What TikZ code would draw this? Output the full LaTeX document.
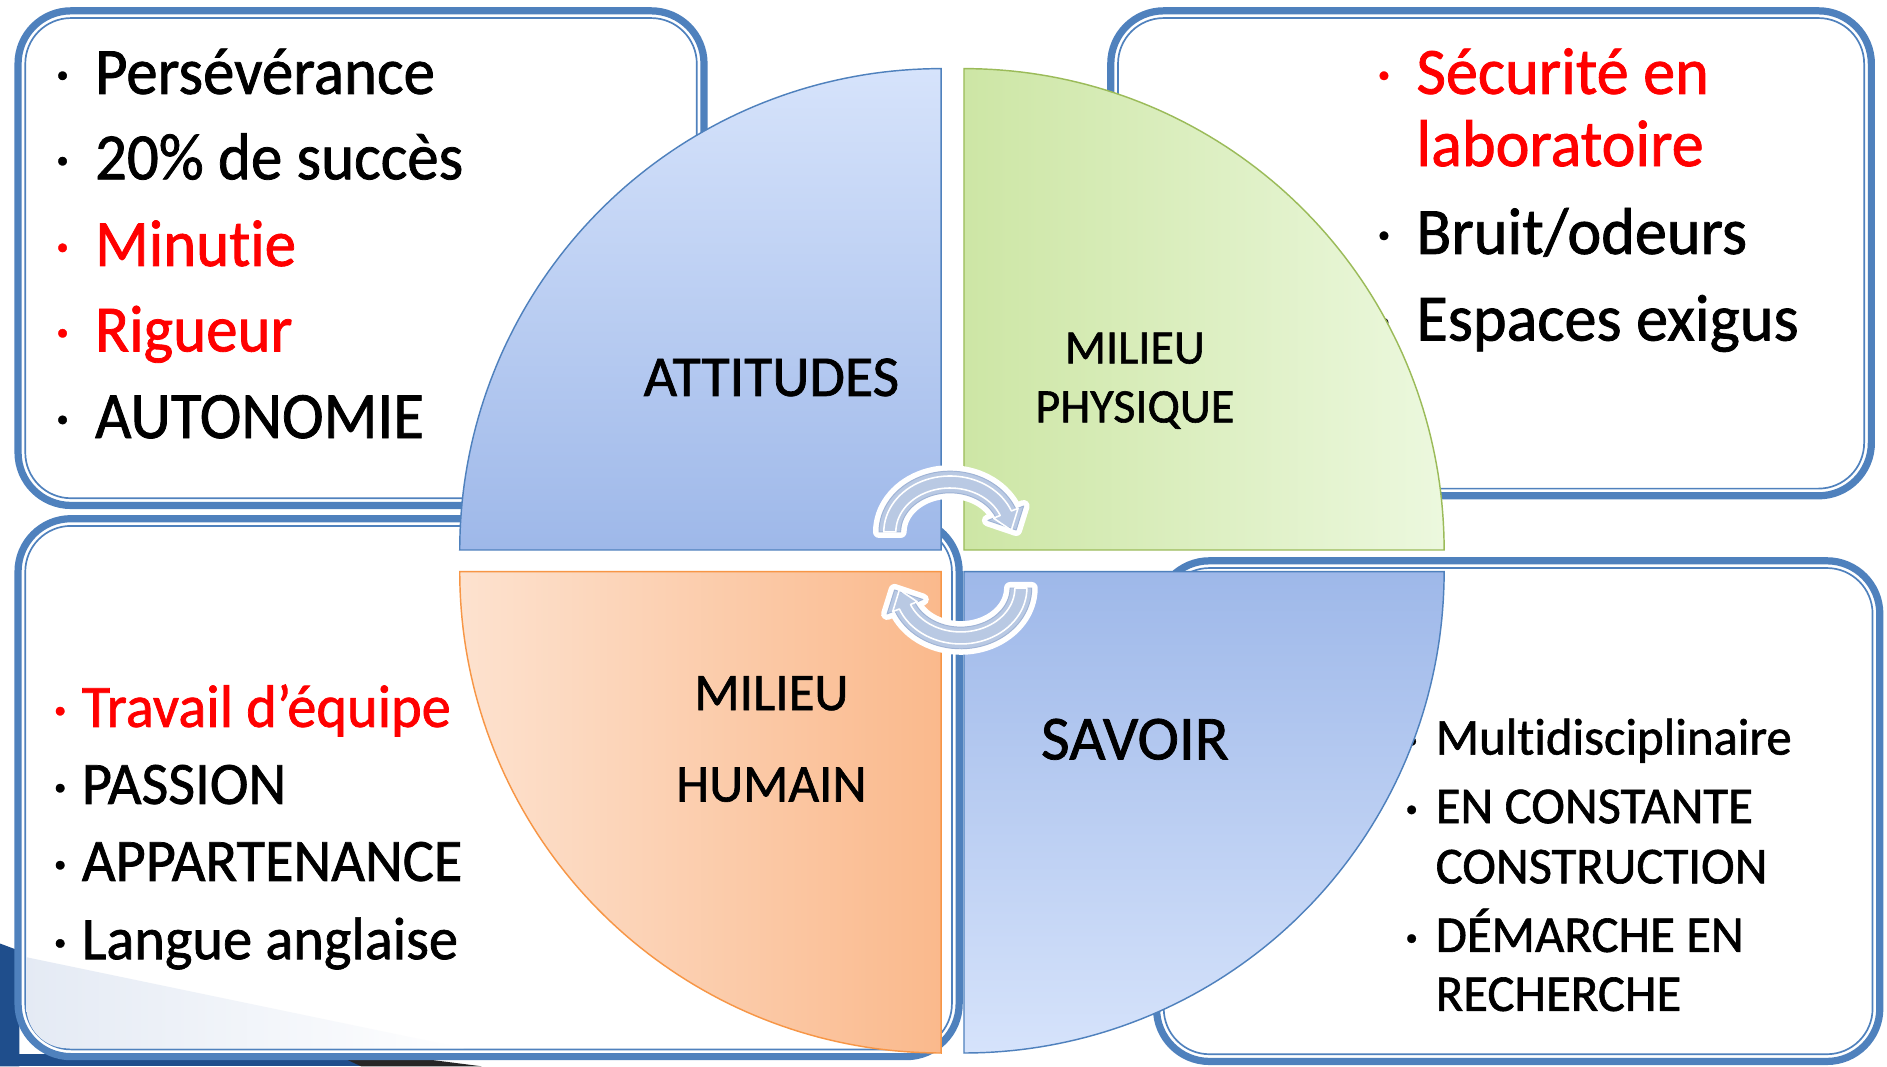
\documentclass[tikz,border=0pt]{standalone}
\usepackage{fontspec}
\setmainfont{Carlito}[Ligatures=NoCommon, FakeBold=1.2]
\usepackage{graphicx}
\definecolor{boxblue}{RGB}{79,129,189}
\definecolor{qblueL}{RGB}{214,227,251}
\definecolor{qblueD}{RGB}{158,184,233}
\definecolor{qgreenD}{RGB}{205,230,165}
\definecolor{qgreenL}{RGB}{236,248,222}
\definecolor{qgreenE}{RGB}{155,187,89}
\definecolor{qorL}{RGB}{253,226,207}
\definecolor{qorD}{RGB}{250,185,140}
\definecolor{qorE}{RGB}{247,150,70}
\definecolor{arrfill}{RGB}{185,201,227}
\definecolor{arredge}{RGB}{160,180,214}
\definecolor{deco}{RGB}{31,78,140}
\definecolor{halftone}{RGB}{228,234,244}
\newcommand\sx[2]{\scalebox{#1}[1]{#2}}
\newcommand\slidebox[4]{%
  \draw[boxblue, line width=6, fill=white, rounded corners=44] (#1+3,#2+3) rectangle (#3-3,#4-3);
  \draw[boxblue, line width=1.4, rounded corners=38] (#1+9,#2+9) rectangle (#3-9,#4-9);}
% #1 style, #2 cx, #3 cy, #4 a0, #5 half band, #6 half head, #7 tip radius extra
\newcommand\arrshape[7]{%
  \pgfmathsetmacro\aA{#4+158}%
  \pgfmathsetmacro\aT{#4+178}%
  \path[#1] plot[domain=#4:\aA, samples=40] ({#2+(50+#5)*cos(\x)},{#3+(41.5+#5)*sin(\x)})
    -- ({#2+(50+#6)*cos(\aA)},{#3+(41.5+#6)*sin(\aA)})
    -- ({#2+(50+#7)*cos(\aT)},{#3+(41.5+#7)*sin(\aT)})
    -- ({#2+(50-#6)*cos(\aA)},{#3+(41.5-#6)*sin(\aA)})
    -- plot[domain=\aA:#4, samples=40] ({#2+(50-#5)*cos(\x)},{#3+(41.5-#5)*sin(\x)})
    -- cycle;}
\begin{document}
\begin{tikzpicture}[x=1pt,y=-1pt,
  item/.style={anchor=base west, inner sep=0pt, outer sep=0pt},
  bul/.style={anchor=center, inner sep=0pt, font=\fontsize{20}{20}\selectfont},
  lab/.style={anchor=base, inner sep=0pt, text=black},
  tlfont/.style={font=\fontsize{55}{55}\selectfont},
  blfont/.style={font=\fontsize{50}{50}\selectfont},
  brfont/.style={font=\fontsize{43}{43}\selectfont},
  quadedge/.style={line width=1.2},
  arrwhite/.style={draw=white, fill=white, line width=10, line join=round},
  arrbody/.style={fill=arrfill, draw=arredge, line width=0.8, line join=round},
  arrline/.style={draw=white, line width=1.3, line join=round}]
\useasboundingbox (0,0) rectangle (1568,886);
\fill[white] (0,0) rectangle (1568,886);
% slide decoration bottom left
\fill[deco] (0,784) -- (16,790) -- (16,886) -- (0,886) -- cycle;
\fill[deco] (0,876) rectangle (310,886);
\fill[black!85] (285,879) -- (345,879) -- (400,886) -- (300,886) -- cycle;
% boxes
\slidebox{12}{6}{588}{423}
\slidebox{920}{6}{1558}{415}
\slidebox{12}{428}{800}{881}
\slidebox{958}{463}{1565}{885}
\begin{scope}
  \clip[rounded corners=34] (22,438) rectangle (790,871);
  \shade[left color=halftone, right color=white] (20,795) -- (390,872) -- (20,872) -- cycle;
\end{scope}
% top-left list
\node[bul] (b1) at (52,64) {•};
\node[item, tlfont] (t1) at (79,78) {\sx{0.95}{Persévérance}};
\node[bul] (b2) at (52,135) {•};
\node[item, tlfont] (t2) at (79,149) {\sx{0.95}{20\% de succès}};
\node[bul, text=red] (b3) at (52,207) {•};
\node[item, tlfont, text=red] (t3) at (79,221) {\sx{0.95}{Minutie}};
\node[bul, text=red] (b4) at (52,278) {•};
\node[item, tlfont, text=red] (t4) at (79,292) {\sx{0.95}{Rigueur}};
\node[bul] (b5) at (52,350) {•};
\node[item, tlfont] (t5) at (79,364) {\sx{0.95}{AUTONOMIE}};
% top-right list
\node[bul, text=red] (c1) at (1150,64) {•};
\node[item, tlfont, text=red] (u1) at (1177,78) {\sx{0.97}{Sécurité en}};
\node[item, tlfont, text=red] (u1b) at (1177,138) {\sx{0.97}{laboratoire}};
\node[bul] (c2) at (1150,197) {•};
\node[item, tlfont] (u2) at (1177,211) {\sx{0.97}{Bruit/odeurs}};
\node[bul] (c3) at (1150,269) {•};
\node[item, tlfont] (u3) at (1177,283) {\sx{0.97}{Espaces exigus}};
% bottom-left list
\node[bul, text=red] (d1) at (50,592) {•};
\node[item, blfont, text=red] (v1) at (68,604) {\sx{0.97}{Travail d’équipe}};
\node[bul] (d2) at (50,656) {•};
\node[item, blfont] (v2) at (68,668) {\sx{0.97}{PASSION}};
\node[bul] (d3) at (50,720) {•};
\node[item, blfont] (v3) at (68,732) {\sx{0.97}{APPARTENANCE}};
\node[bul] (d4) at (50,785) {•};
\node[item, blfont] (v4) at (68,797) {\sx{0.97}{Langue anglaise}};
% bottom-right list
\node[bul] (e1) at (1173,617) {•};
\node[item, brfont] (w1) at (1193,627) {\sx{0.98}{Multidisciplinaire}};
\node[bul] (e2) at (1173,674) {•};
\node[item, brfont] (w2) at (1193,684) {\sx{0.98}{EN CONSTANTE}};
\node[item, brfont] (w2b) at (1193,734) {\sx{0.98}{CONSTRUCTION}};
\node[bul] (e3) at (1173,781) {•};
\node[item, brfont] (w3) at (1193,791) {\sx{0.98}{DÉMARCHE EN}};
\node[item, brfont] (w3b) at (1193,840) {\sx{0.98}{RECHERCHE}};
% quadrants
\draw[quadedge, boxblue, top color=qblueL, bottom color=qblueD]
  (782,457) -- plot[domain=180:270, samples=80] ({782+400*cos(\x)},{457+400*sin(\x)}) -- cycle;
\draw[quadedge, qgreenE, left color=qgreenD, right color=qgreenL]
  (801,457) -- plot[domain=270:360, samples=80] ({801+399*cos(\x)},{457+400*sin(\x)}) -- cycle;
\draw[quadedge, qorE, left color=qorL, right color=qorD]
  (782,475) -- plot[domain=90:180, samples=80] ({782+400*cos(\x)},{475+400*sin(\x)}) -- cycle;
\draw[quadedge, boxblue, top color=qblueD, bottom color=qblueL]
  (801,475) -- plot[domain=0:90, samples=80] ({801+399*cos(\x)},{475+400*sin(\x)}) -- cycle;
% quadrant labels
\node[lab, font=\fontsize{48}{48}\selectfont] (att) at (641,329) {ATTITUDES};
\node[lab, font=\fontsize{40}{40}\selectfont] (mp1) at (943,302) {MILIEU};
\node[lab, font=\fontsize{40}{40}\selectfont] (mp2) at (943,351) {PHYSIQUE};
\node[lab, font=\fontsize{44}{44}\selectfont] (mh1) at (641,590) {MILIEU};
\node[lab, font=\fontsize{44}{44}\selectfont] (mh2) at (641,666) {HUMAIN};
\node[lab, font=\fontsize{52}{52}\selectfont] (sav) at (943,631) {SAVOIR};
% circular arrows
\arrshape{arrwhite}{789.4}{442}{180}{9}{16}{5}
\arrshape{arrbody}{789.4}{442}{180}{9}{16}{5}
\arrshape{arrline}{789.4}{442}{180}{5}{11}{1}
\arrshape{arrwhite}{798.3}{488.6}{0}{9}{16}{5}
\arrshape{arrbody}{798.3}{488.6}{0}{9}{16}{5}
\arrshape{arrline}{798.3}{488.6}{0}{5}{11}{1}
\end{tikzpicture}
\end{document}
